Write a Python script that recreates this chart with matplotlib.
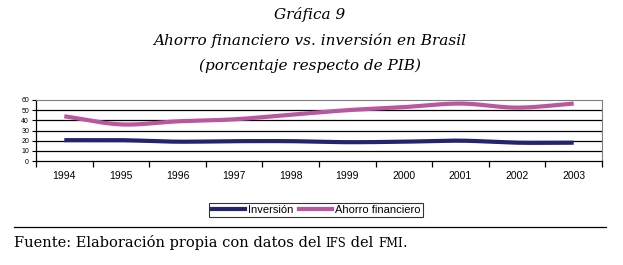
import numpy as np
import matplotlib
matplotlib.use("Agg")
import matplotlib.pyplot as plt
from matplotlib.lines import Line2D

years = ["1994", "1995", "1996", "1997", "1998", "1999", "2000", "2001", "2002", "2003"]
inversion = [20.5, 20.5, 19.0, 19.5, 19.5, 18.5, 19.0, 20.0, 18.0, 18.0]
ahorro = [44.0, 36.0, 39.0, 41.0, 45.5, 50.0, 53.0, 56.5, 52.5, 56.5]
yticks = [0, 10, 20, 30, 40, 50, 60]


def smooth(x, y, n=20):
    # Catmull-Rom curve through the data points (Excel-like smoothed line)
    x = np.asarray(x, float)
    y = np.asarray(y, float)
    px = np.concatenate([[2 * x[0] - x[1]], x, [2 * x[-1] - x[-2]]])
    py = np.concatenate([[2 * y[0] - y[1]], y, [2 * y[-1] - y[-2]]])
    xs, ys = [], []
    t = np.linspace(0, 1, n, endpoint=False)
    for i in range(1, len(px) - 2):
        for arr, out in ((px, xs), (py, ys)):
            p0, p1, p2, p3 = arr[i - 1], arr[i], arr[i + 1], arr[i + 2]
            out.extend(0.5 * ((2 * p1) + (-p0 + p2) * t
                              + (2 * p0 - 5 * p1 + 4 * p2 - p3) * t ** 2
                              + (-p0 + 3 * p1 - 3 * p2 + p3) * t ** 3))
    xs.append(x[-1])
    ys.append(y[-1])
    return np.array(xs), np.array(ys)


W, H = 623, 265
fig = plt.figure(figsize=(W / 100, H / 100), dpi=100)
ax = fig.add_axes([36 / W, (H - 161) / H, (602 - 36) / W, 61 / H])

navy = "#24246E"
pink = "#B9579F"
xpos = np.arange(len(years))
sx, sy = smooth(xpos, inversion)
ax.plot(sx, sy, color=navy, lw=3.0, solid_capstyle="butt")
sx, sy = smooth(xpos, ahorro)
ax.plot(sx, sy, color=pink, lw=3.0, solid_capstyle="butt")

ax.set_xlim(-0.5, len(years) - 0.5)
ax.set_ylim(0, 60)
ax.set_yticks(yticks)
ax.set_yticklabels([str(v) for v in yticks], fontsize=5, family="Liberation Sans")
for v in yticks[1:-1]:
    ax.axhline(v, color="black", lw=0.9, zorder=0)

ax.set_xticks(xpos)
ax.set_xticklabels(years, fontsize=7.5, family="Liberation Sans")
ax.set_xticks(np.arange(len(years) + 1) - 0.5, minor=True)
ax.tick_params(axis="x", which="major", length=0, pad=7.5)
ax.tick_params(axis="x", which="minor", length=4, width=0.9, direction="out")
ax.tick_params(axis="y", length=3, width=0.8, pad=2)

for s in ("top", "right"):
    ax.spines[s].set_color("#808080")
    ax.spines[s].set_linewidth(0.8)
for s in ("left", "bottom"):
    ax.spines[s].set_color("black")
    ax.spines[s].set_linewidth(0.9)

handles = [Line2D([], [], color=navy, lw=3.0), Line2D([], [], color=pink, lw=3.0)]
leg = fig.legend(handles, ["Inversión", "Ahorro financiero"], loc="center",
                 bbox_to_anchor=(316 / W, 1 - 210 / H), ncol=2, frameon=True,
                 fancybox=False, edgecolor="black", handlelength=3.0,
                 handletextpad=0.25, columnspacing=0.5, borderpad=0.2,
                 prop={"family": "Liberation Sans", "size": 8})
leg.get_frame().set_linewidth(0.8)

tfont = dict(family="DejaVu Serif", style="italic", size=11, ha="center", va="center")
fig.text(310 / W, 1 - 15 / H, "Gráfica 9", **tfont)
fig.text(310 / W, 1 - 41 / H, "Ahorro financiero vs. inversión en Brasil", **tfont)
fig.text(310 / W, 1 - 66 / H, "(porcentaje respecto de PIB)", **tfont)

fig.add_artist(Line2D([14 / W, 606 / W], [1 - 227 / H, 1 - 227 / H],
                      color="black", lw=0.9))

# footer with small-caps style acronyms
pieces = [("Fuente: Elaboración propia con datos del ", 10.5),
          ("IFS", 8.3), (" del ", 10.5), ("FMI", 8.3), (".", 10.5)]
fig.canvas.draw()
renderer = fig.canvas.get_renderer()
xcur = 14
for txt, size in pieces:
    t = fig.text(xcur / W, 1 - 247 / H, txt, family="DejaVu Serif", size=size,
                 ha="left", va="baseline")
    bb = t.get_window_extent(renderer)
    xcur += bb.width

fig.savefig("out.png", dpi=100, facecolor="white")
